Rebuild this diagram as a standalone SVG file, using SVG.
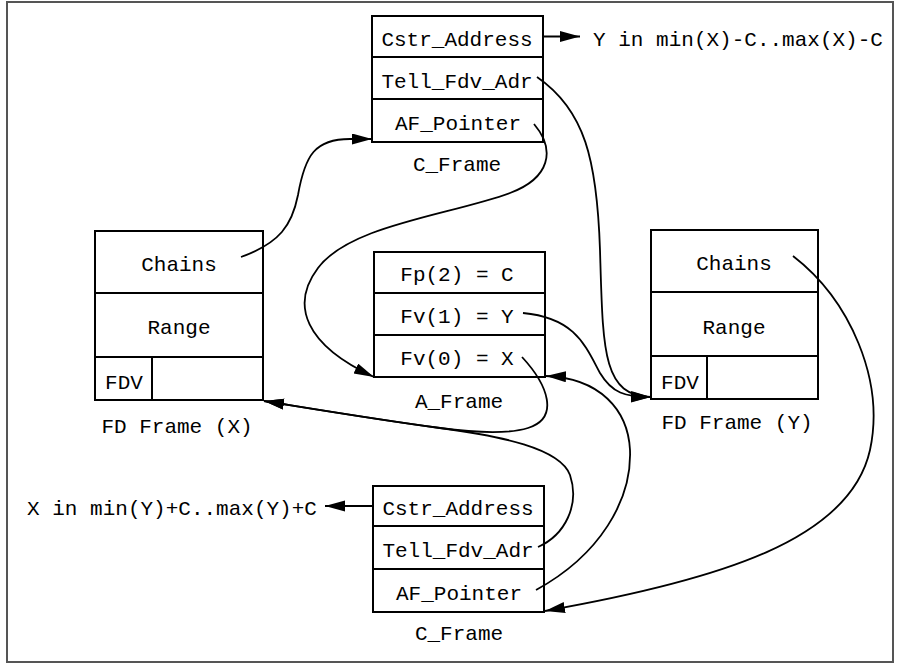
<svg xmlns="http://www.w3.org/2000/svg" width="901" height="665" viewBox="0 0 901 665">
<defs>
<style>
text{font-family:"Liberation Mono","DejaVu Sans Mono",monospace;font-size:21px;fill:#000;text-anchor:middle}
.box{fill:#fff;stroke:#000;stroke-width:2}
.ln{stroke:#000;stroke-width:2;fill:none}
.con{stroke:#000;stroke-width:1.8;fill:none;marker-end:url(#ah)}
</style>
<marker id="ah" markerUnits="userSpaceOnUse" markerWidth="22" markerHeight="12" refX="20" refY="5.5" orient="auto">
<path d="M0,0 L20,5.5 L0,11 z" fill="#000"/>
</marker>
</defs>
<rect x="7" y="2" width="886" height="660" fill="#fff" stroke="#555" stroke-width="2"/>

<g id="cframe-top">
<rect class="box" x="372" y="16" width="171" height="126"/>
<line class="ln" x1="372" y1="57" x2="543" y2="57"/>
<line class="ln" x1="372" y1="99" x2="543" y2="99"/>
<text x="457" y="46">Cstr_Address</text>
<text x="457" y="88">Tell_Fdv_Adr</text>
<text x="458" y="130">AF_Pointer</text>
<text x="457" y="171">C_Frame</text>
</g>

<g id="label-y">
<text x="738" y="46">Y in min(X)-C..max(X)-C</text>
</g>

<g id="aframe">
<rect class="box" x="374" y="252" width="171" height="125"/>
<line class="ln" x1="374" y1="293" x2="545" y2="293"/>
<line class="ln" x1="374" y1="335" x2="545" y2="335"/>
<text x="457" y="281">Fp(2) = C</text>
<text x="457" y="323">Fv(1) = Y</text>
<text x="457" y="365">Fv(0) = X</text>
<text x="459" y="408">A_Frame</text>
</g>

<g id="fdframe-x">
<rect class="box" x="95" y="231" width="168" height="169"/>
<line class="ln" x1="95" y1="293" x2="263" y2="293"/>
<line class="ln" x1="95" y1="357" x2="263" y2="357"/>
<line class="ln" x1="152" y1="357" x2="152" y2="400"/>
<text x="179" y="271">Chains</text>
<text x="179" y="334">Range</text>
<text x="124" y="389">FDV</text>
<text x="177" y="433">FD Frame (X)</text>
</g>

<g id="fdframe-y">
<rect class="box" x="651" y="230" width="167" height="169"/>
<line class="ln" x1="651" y1="292" x2="818" y2="292"/>
<line class="ln" x1="651" y1="356" x2="818" y2="356"/>
<line class="ln" x1="707" y1="356" x2="707" y2="399"/>
<text x="734" y="270">Chains</text>
<text x="734" y="334">Range</text>
<text x="680" y="389">FDV</text>
<text x="737" y="429">FD Frame (Y)</text>
</g>

<g id="cframe-bottom">
<rect class="box" x="373" y="486" width="171" height="126"/>
<line class="ln" x1="373" y1="526" x2="544" y2="526"/>
<line class="ln" x1="373" y1="569" x2="544" y2="569"/>
<text x="458" y="515">Cstr_Address</text>
<text x="458" y="557">Tell_Fdv_Adr</text>
<text x="459" y="600">AF_Pointer</text>
<text x="459" y="640">C_Frame</text>
</g>

<g id="label-x">
<text x="172" y="515">X in min(Y)+C..max(Y)+C</text>
</g>

<g id="connectors">
<path class="con" d="M543,36.5 L580,36.5"/>
<path class="con" d="M373,506 L325,506"/>
<path class="con" d="M241,257 C280,243 292,225 298,195 C305,155 315,139 350,139 L372,139"/>
<path class="con" d="M534,124 C556,150 550,178 510,193 C450,215 350,225 318,268 C290,305 305,345 374,377"/>
<path class="con" d="M537,77 C585,110 597,160 600,250 C603,350 602,396 651,397"/>
<path class="con" d="M523,313 C575,318 585,345 600,373 C612,393 625,397 651,397"/>
<path class="con" d="M522,357 C548,385 560,418 528,428 C505,435 470,432 440,428 C380,420 320,410 264,401"/>
<path class="con" d="M538,547 C565,535 580,505 570,475 C560,448 500,436 440,428 C380,420 320,410 264,401"/>
<path class="con" d="M536,590 C600,555 632,500 630,450 C628,410 600,378 546,376"/>
<path class="con" d="M793,256 C850,300 885,380 870,450 C850,540 720,580 545,611"/>
</g>
</svg>
